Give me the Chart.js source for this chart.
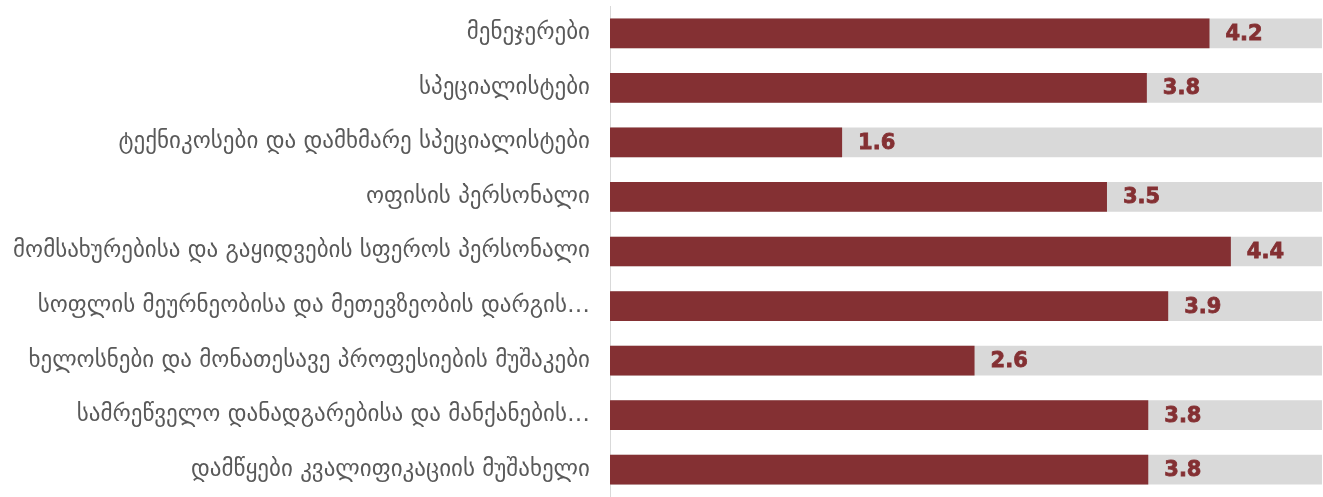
<!DOCTYPE html>
<html>
<head>
<meta charset="utf-8">
<script src="https://cdn.jsdelivr.net/npm/chart.js@4"></script>
<style>
  html, body { margin: 0; padding: 0; background: #fff; }
  #wrap { width: 1323px; height: 497px; }
</style>
</head>
<body>
<div id="wrap"><canvas id="occupations"></canvas></div>
<script>
// occupation groups (long ones are cut off in the original)
const categories = [
    'მენეჯერები',
    'სპეციალისტები',
    'ტექნიკოსები და დამხმარე სპეციალისტები',
    'ოფისის პერსონალი',
    'მომსახურებისა და გაყიდვების სფეროს პერსონალი',
    'სოფლის მეურნეობისა და მეთევზეობის დარგის…',
    'ხელოსნები და მონათესავე პროფესიების მუშაკები',
    'სამრეწველო დანადგარებისა და მანქანების…',
    'დამწყები კვალიფიკაციის მუშახელი'
];
const scores = [4.21, 3.77, 1.63, 3.49, 4.36, 3.92, 2.56, 3.78, 3.78];
const scaleMax = 5;
const backgroundBars = categories.map(() => scaleMax);

const barColor = '#843033';
const trackColor = '#d9d9d9';

const valueLabels = {
    id: 'valueLabels',
    afterDatasetsDraw(chart) {
        const ctx = chart.ctx;
        const meta = chart.getDatasetMeta(0);
        ctx.save();
        ctx.fillStyle = barColor;
        ctx.strokeStyle = barColor;
        ctx.lineWidth = 0.8;
        ctx.font = 'bold 21px "DejaVu Sans", sans-serif';
        ctx.textAlign = 'left';
        ctx.textBaseline = 'middle';
        meta.data.forEach(function(bar, i) {
            let txt = scores[i].toFixed(1);
            ctx.fillText(txt, bar.x + 16, bar.y + 1);
            ctx.strokeText(txt, bar.x + 16, bar.y + 1);
        });
        ctx.restore();
    }
};

const ctx = document.getElementById('occupations').getContext('2d');

new Chart(ctx, {
    type: 'bar',
    data: {
        labels: categories,
        datasets: [{
            label: 'score',
            data: scores,
            backgroundColor: barColor,
            grouped: false,
            barPercentage: 0.545,
            categoryPercentage: 1,
            order: 0
        }, {
            label: 'track',
            data: backgroundBars,
            backgroundColor: trackColor,
            grouped: false,
            barPercentage: 0.545,
            categoryPercentage: 1,
            order: 1
        }]
    },
    options: {
        indexAxis: 'y',
        responsive: true,
        maintainAspectRatio: false,
        animation: false,
        layout: { padding: { top: 6, bottom: -4, left: 0, right: 1 } },
        plugins: {
            legend: { display: false },
            tooltip: { enabled: false }
        },
        scales: {
            x: {
                display: false,
                min: 0,
                max: scaleMax
            },
            y: {
                afterFit: function(scale) {
                    scale.width = 610;
                    // tick padding should only push labels left, not shrink the plot
                    scale.paddingTop = 0;
                    scale.paddingBottom = 0;
                },
                grid: { display: false, drawTicks: false },
                border: { display: true, color: '#d9d9d9', width: 1 },
                ticks: {
                    padding: 20,
                    color: '#595959',
                    font: { family: '"DejaVu Sans", sans-serif', size: 23 }
                }
            }
        }
    },
    plugins: [valueLabels]
});
</script>
</body>
</html>
